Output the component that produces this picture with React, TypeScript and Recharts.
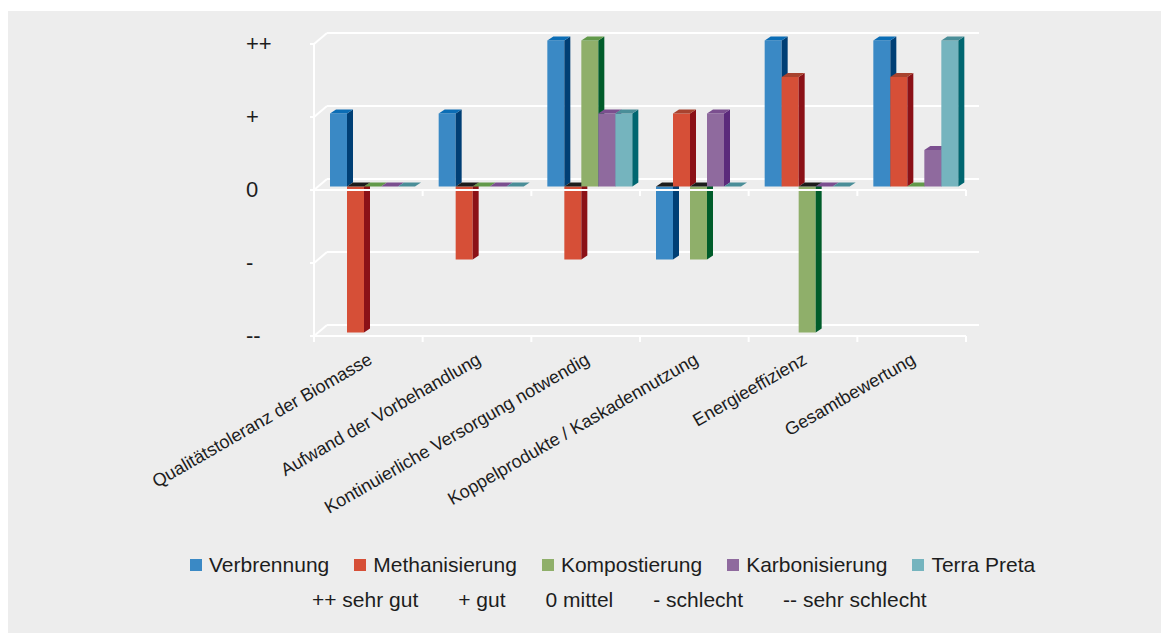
import { BarChart, Bar, XAxis, YAxis, CartesianGrid, ReferenceLine } from 'recharts';

const categories = [
  'Qualitätstoleranz der Biomasse',
  'Aufwand der Vorbehandlung',
  'Kontinuierliche Versorgung notwendig',
  'Koppelprodukte / Kaskadennutzung',
  'Energieeffizienz',
  'Gesamtbewertung',
];

const verbrennung = [1, 1, 2, -1, 2, 2];
const methanisierung = [-2, -1, -1, 1, 1.5, 1.5];
const kompostierung = [0, 0, 2, -1, -2, 0];
const karbonisierung = [0, 0, 1, 1, 0, 0.5];
const terraPreta = [0, 0, 1, 0, 0, 2];

const yTicks = [-2, -1, 0, 1, 2];
const yTickLabels: Record<number, string> = { 2: '++', 1: '+', 0: '0', '-1': '-', '-2': '--' };

const ratingNotes = ['++ sehr gut', '+ gut', '0 mittel', '- schlecht', '-- sehr schlecht'];

const series = [
  { key: 'verbrennung', name: 'Verbrennung', values: verbrennung, front: '#3a89c5', side: '#003f75', top: '#0b6db5' },
  { key: 'methanisierung', name: 'Methanisierung', values: methanisierung, front: '#d64f37', side: '#8b1117', top: '#a8432f' },
  { key: 'kompostierung', name: 'Kompostierung', values: kompostierung, front: '#8faf6a', side: '#005c2a', top: '#62994a' },
  { key: 'karbonisierung', name: 'Karbonisierung', values: karbonisierung, front: '#8f6a9e', side: '#5b2a7b', top: '#7b4f8f' },
  { key: 'terraPreta', name: 'Terra Preta', values: terraPreta, front: '#75b4be', side: '#006670', top: '#4a8e98' },
];

const data = categories.map((name, i) => {
  const row: any = { name };
  series.forEach((s) => (row[s.key] = s.values[i]));
  return row;
});

// layout (chart coords, grey box is the chart origin)
const W = 1153;
const H = 622;
const PLOT_L = 306;
const PLOT_R = 958;
const PLOT_T = 33;
const PLOT_B = 325;
const Y_W = 70;
const X_H = 40;
const BW = (PLOT_R - PLOT_L) / categories.length;

// 3d offsets
const BACK_X = 13;
const BACK_Y = -11;
const BAR_DX = 4;
const BAR_DY = -3.5;
const SIDE_X = 6;
const SIDE_Y = -4;

const FONT = '"Liberation Sans", Arial, Helvetica, sans-serif';
const TEXT = '#1d1d1d';

function makeShape(s: (typeof series)[number]) {
  return (props: any) => {
    const { x, y, width, height, value } = props;
    const v = Array.isArray(value) ? value[1] - value[0] : value;
    const x0 = x + BAR_DX;
    const x1 = x0 + width;
    const top = Math.min(y, y + height) + BAR_DY;
    const bottom = Math.max(y, y + height) + BAR_DY;
    const h = bottom - top;
    if (!h || v === 0) {
      return (
        <polygon
          points={`${x0},${top} ${x1},${top} ${x1 + SIDE_X},${top + SIDE_Y} ${x0 + SIDE_X},${top + SIDE_Y}`}
          fill={s.top}
        />
      );
    }
    const topFill = v < 0 ? '#1c1c1c' : s.top;
    return (
      <g>
        <rect x={x0} y={top} width={width} height={h} fill={s.front} />
        <polygon
          points={`${x1},${top} ${x1 + SIDE_X},${top + SIDE_Y} ${x1 + SIDE_X},${bottom + SIDE_Y} ${x1},${bottom}`}
          fill={s.side}
        />
        <polygon
          points={`${x0},${top} ${x1},${top} ${x1 + SIDE_X},${top + SIDE_Y} ${x0 + SIDE_X},${top + SIDE_Y}`}
          fill={topFill}
        />
      </g>
    );
  };
}

const GridLine = (props: any) => {
  const { x1, x2, y1 } = props;
  return (
    <g key={props.key}>
      <line x1={x1} y1={y1} x2={x1 + BACK_X} y2={y1 + BACK_Y} stroke="#fff" strokeWidth={2} />
      <line x1={x1 + BACK_X} y1={y1 + BACK_Y} x2={x2 + BACK_X} y2={y1 + BACK_Y} stroke="#fff" strokeWidth={2} />
    </g>
  );
};

const FrontZero = (props: any) => {
  const { x1, x2, y1 } = props;
  return (
    <g>
      <line x1={x1} y1={y1} x2={x2} y2={y1} stroke="#fff" strokeWidth={2} />
      {categories.map((_, i) => (
        <line key={i} x1={x1 + (i + 1) * BW} y1={y1} x2={x1 + (i + 1) * BW} y2={y1 + 6} stroke="#fff" strokeWidth={2} />
      ))}
    </g>
  );
};

const XTick = (props: any) => {
  const { x, index, payload } = props;
  return (
    <g>
      <line x1={x - BW / 2} y1={PLOT_B} x2={x - BW / 2} y2={PLOT_B + 6} stroke="#fff" strokeWidth={2} />
      {index === categories.length - 1 && (
        <line x1={x + BW / 2} y1={PLOT_B} x2={x + BW / 2} y2={PLOT_B + 6} stroke="#fff" strokeWidth={2} />
      )}
      <text
        transform={`translate(${x + 5},${PLOT_B + 27}) rotate(-30)`}
        textAnchor="end"
        fontSize={18}
        fontFamily={FONT}
        fill={TEXT}
      >
        {payload.value}
      </text>
    </g>
  );
};

const YTick = (props: any) => {
  const { y, payload } = props;
  return (
    <text x={PLOT_L - 68} y={y + 7} fontSize={22} fontFamily={FONT} fill={TEXT}>
      {yTickLabels[payload.value]}
    </text>
  );
};

export default function App() {
  return (
    <div style={{ position: 'absolute', left: 8, top: 11, width: W, height: H, background: '#ededed', fontFamily: FONT }}>
      <BarChart
        width={W}
        height={H}
        data={data}
        margin={{ top: PLOT_T, right: W - PLOT_R, bottom: H - PLOT_B - X_H, left: PLOT_L - Y_W }}
        barGap={0}
        barSize={17}
      >
        <CartesianGrid vertical={false} horizontal={GridLine} />
        <XAxis
          dataKey="name"
          height={X_H}
          interval={0}
          axisLine={{ stroke: '#fff', strokeWidth: 2 }}
          tickLine={false}
          tick={XTick}
        />
        <YAxis
          domain={[-2, 2]}
          ticks={yTicks}
          width={Y_W}
          axisLine={{ stroke: '#fff', strokeWidth: 2 }}
          tickLine={{ stroke: '#fff', strokeWidth: 2 }}
          tickSize={4}
          tick={YTick}
        />
        {series.map((s) => (
          <Bar key={s.key} dataKey={s.key} name={s.name} fill={s.front} shape={makeShape(s)} isAnimationActive={false} />
        ))}
        <ReferenceLine y={0} shape={FrontZero} />
      </BarChart>
      <div
        style={{
          position: 'absolute',
          left: 182,
          top: 542,
          display: 'flex',
          alignItems: 'center',
          gap: 25,
          fontSize: 21,
          color: TEXT,
          whiteSpace: 'nowrap',
        }}
      >
        {series.map((s) => (
          <div key={s.key} style={{ display: 'flex', alignItems: 'center', gap: 7 }}>
            <span style={{ display: 'inline-block', width: 12, height: 12, background: s.front }} />
            <span>{s.name}</span>
          </div>
        ))}
      </div>
      <div
        style={{
          position: 'absolute',
          left: 304,
          top: 577,
          display: 'flex',
          gap: 40,
          fontSize: 21,
          color: TEXT,
          whiteSpace: 'nowrap',
        }}
      >
        {ratingNotes.map((t) => (
          <span key={t}>{t}</span>
        ))}
      </div>
    </div>
  );
}
